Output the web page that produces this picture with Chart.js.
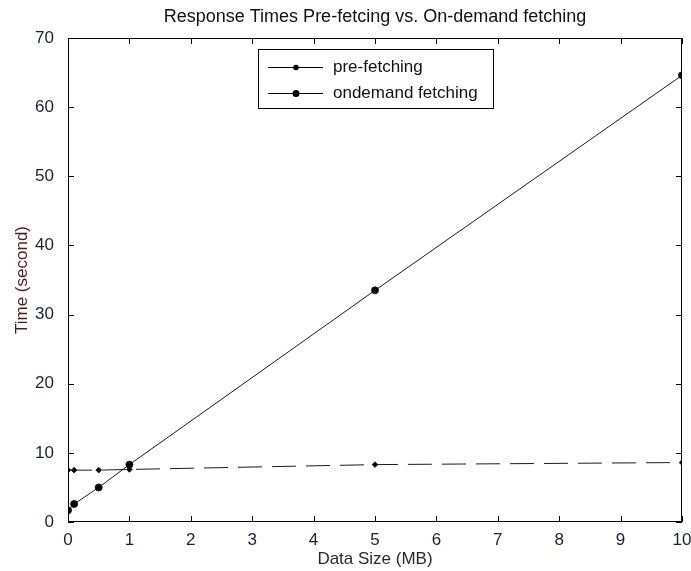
<!DOCTYPE html>
<html>
<head>
<meta charset="utf-8">
<script src="https://cdn.jsdelivr.net/npm/chart.js@4"></script>
<style>
  html, body { margin: 0; padding: 0; background: #fff; }
  #wrap { width: 691px; height: 571px; }
</style>
</head>
<body>
<div id="wrap"><canvas id="myChart" width="691" height="571"></canvas></div>
<script>
// data
const dataSizes = [0, 0.1, 0.5, 1, 5, 10];
const preFetching = [7.5, 7.5, 7.5, 7.6, 8.3, 8.6];
const onDemand = [1.7, 2.6, 5.0, 8.3, 33.5, 64.6];
const seriesNames = ['pre-fetching', 'ondemand fetching'];
const titleText = 'Response Times Pre-fetcing vs. On-demand fetching';
const xLabel = 'Data Size (MB)';
const yLabel = 'Time (second)';

const FONT = 'Liberation Sans, Arial, sans-serif';
const FS = 17;

const toPoints = (ys) => dataSizes.map((x, i) => ({ x: x, y: ys[i] }));

// title centred over the axes, as MATLAB does
const axesTitle = {
    id: 'axesTitle',
    afterDraw(chart) {
        const { ctx, chartArea: a } = chart;
        ctx.save();
        ctx.fillStyle = '#111';
        ctx.font = '18px ' + FONT;
        ctx.textAlign = 'center';
        ctx.textBaseline = 'middle';
        ctx.fillText(titleText, (a.left + a.right) / 2, 17);
        ctx.restore();
    }
};

// box round the axes and inward ticks on all four sides
const boxTicks = {
    id: 'boxTicks',
    afterDraw(chart) {
        const { ctx, chartArea: a, scales } = chart;
        ctx.save();
        ctx.strokeStyle = '#000';
        ctx.lineWidth = 1;
        ctx.strokeRect(a.left + 0.5, a.top + 0.5, a.right - a.left - 1, a.bottom - a.top - 1);
        ctx.beginPath();
        scales.x.ticks.forEach(t => {
            const px = Math.round(scales.x.getPixelForValue(t.value)) + 0.5;
            ctx.moveTo(px, a.bottom); ctx.lineTo(px, a.bottom - 6);
            ctx.moveTo(px, a.top); ctx.lineTo(px, a.top + 6);
        });
        scales.y.ticks.forEach(t => {
            const py = Math.round(scales.y.getPixelForValue(t.value)) + 0.5;
            ctx.moveTo(a.left, py); ctx.lineTo(a.left + 6, py);
            ctx.moveTo(a.right, py); ctx.lineTo(a.right - 6, py);
        });
        ctx.stroke();
        ctx.restore();
    }
};

// boxed legend, solid sample lines like the original
const boxLegend = {
    id: 'boxLegend',
    afterDraw(chart) {
        const ctx = chart.ctx;
        const x0 = 258, y0 = 49, w = 235, h = 59;
        ctx.save();
        ctx.fillStyle = '#fff';
        ctx.fillRect(x0, y0, w, h);
        ctx.strokeStyle = '#000';
        ctx.lineWidth = 1;
        ctx.strokeRect(x0 + 0.5, y0 + 0.5, w, h);
        chart.data.datasets.forEach((ds, i) => {
            const yy = y0 + 18 + i * 26;
            ctx.strokeStyle = '#000';
            ctx.beginPath();
            ctx.moveTo(x0 + 10, yy + 0.5);
            ctx.lineTo(x0 + 65, yy + 0.5);
            ctx.stroke();
            ctx.fillStyle = '#000';
            ctx.beginPath();
            ctx.arc(x0 + 38, yy + 0.5, ds.pointRadius, 0, Math.PI * 2);
            ctx.fill();
            ctx.fillStyle = '#111';
            ctx.font = FS + 'px ' + FONT;
            ctx.textBaseline = 'middle';
            ctx.fillText(ds.label, x0 + 75, yy);
        });
        ctx.restore();
    }
};

const ctx = document.getElementById('myChart');
const PLOT = new Chart(ctx, {
    type: 'scatter',
    data: {
        datasets: [{
            label: seriesNames[0],
            data: toPoints(preFetching),
            showLine: true,
            borderColor: '#1a1a1a',
            backgroundColor: '#000',
            borderWidth: 1,
            borderDash: [24, 10],
            pointRadius: 2.8,
            pointStyle: 'rectRot'
        }, {
            label: seriesNames[1],
            data: toPoints(onDemand),
            showLine: true,
            borderColor: '#1a1a1a',
            backgroundColor: '#000',
            borderWidth: 1,
            pointRadius: 3.5
        }]
    },
    options: {
        responsive: false,
        animation: false,
        layout: { padding: { left: 0, right: 0, top: 38, bottom: 0 } },
        plugins: {
            legend: { display: false },
            tooltip: { enabled: false },
            title: { display: false }
        },
        scales: {
            x: {
                type: 'linear',
                min: 0,
                max: 10,
                ticks: { stepSize: 1, color: '#1e1e3c', font: { family: FONT, size: FS }, padding: 0 },
                grid: { display: false },
                border: { display: false },
                title: { display: true, text: xLabel, color: '#2a2a2a', font: { family: FONT, size: FS }, padding: { top: 0, bottom: 1 } },
                afterFit: (s) => { s.height = 49; s.paddingRight = 9; s.paddingLeft = 0; }
            },
            y: {
                min: 0,
                max: 70,
                ticks: { stepSize: 10, color: '#1e1e3c', font: { family: FONT, size: FS }, padding: 6 },
                grid: { display: false },
                border: { display: false },
                title: { display: true, text: yLabel, color: '#4a1c1c', font: { family: FONT, size: FS }, padding: { top: 12, bottom: 0 } },
                afterFit: (s) => { s.width = 68; s.paddingTop = 0; }
            }
        }
    },
    plugins: [boxTicks, boxLegend, axesTitle]
});
</script>
</body>
</html>
